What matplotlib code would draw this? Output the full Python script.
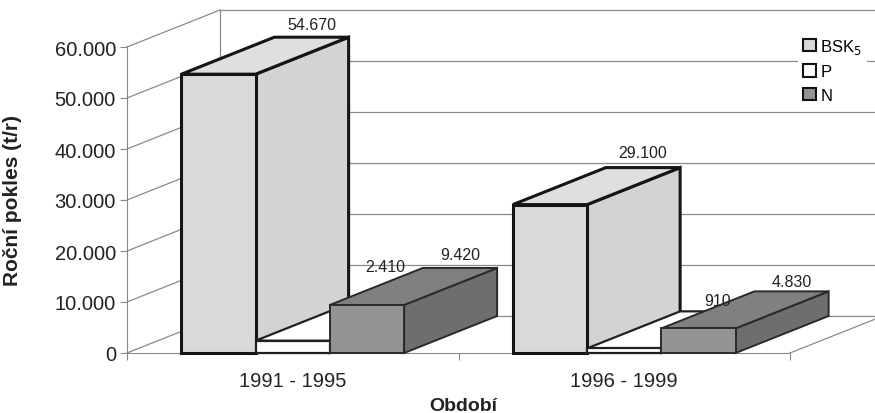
import matplotlib
matplotlib.use("Agg")
import matplotlib.pyplot as plt
from matplotlib.patches import Polygon, Patch

plt.rcParams['font.family'] = ['Liberation Sans', 'DejaVu Sans']

# ---- data ----
categories = ["1991 - 1995", "1996 - 1999"]
series_names = ["BSK$_5$", "P", "N"]
bsk5 = [54670, 29100]
p_vals = [2410, 910]
n_vals = [9420, 4830]
value_labels_bsk5 = ["54.670", "29.100"]
value_labels_p = ["2.410", "910"]
value_labels_n = ["9.420", "4.830"]
yticks = [0, 10000, 20000, 30000, 40000, 50000, 60000]
ytick_labels = ["0", "10.000", "20.000", "30.000", "40.000", "50.000", "60.000"]

series_values = [bsk5, p_vals, n_vals]
series_labels = [value_labels_bsk5, value_labels_p, value_labels_n]

# ---- styles ----
W, H = 875, 414
fig = plt.figure(figsize=(W / 100, H / 100), dpi=100)
left_px, right_px, top_px, bot_px = 127, 790, 48, 354
ax = fig.add_axes([left_px / W, 1 - bot_px / H, (right_px - left_px) / W, (bot_px - top_px) / H])
ymax = 60000
ax.set_xlim(0, len(categories))
ax.set_ylim(0, ymax)
ax.set_facecolor('none')

px_x = (right_px - left_px) / len(categories)      # px per category unit
px_y = (bot_px - top_px) / ymax                    # px per value unit
DX = 93 / px_x                                     # depth offset in data units
DY = 37 / px_y

grid_c = '#8a8a8a'
# left side wall lines and back wall gridlines
for v in yticks:
    ax.plot([0, DX], [v, v + DY], color=grid_c, lw=0.9, clip_on=False, zorder=1)
    ax.plot([DX, len(categories) + DX], [v + DY, v + DY], color=grid_c, lw=0.9, clip_on=False, zorder=1)
ax.plot([DX, DX], [DY, ymax + DY], color=grid_c, lw=0.9, clip_on=False, zorder=1)
# floor right edge
ax.plot([len(categories), len(categories) + DX], [0, DY], color=grid_c, lw=0.9, clip_on=False, zorder=1)

# bars
bw = 0.224
styles = [
    dict(front='#d9d9d9', top='#dfdfdf', side='#d3d3d3', edge='#151515', lw=2.2),
    dict(front='#ffffff', top='#ffffff', side='#f4f4f4', edge='#202020', lw=1.6),
    dict(front='#939393', top='#808080', side='#6e6e6e', edge='#2a2a2a', lw=1.4),
]
label_extra_px = [[13, 15], [37, 11], [13, 10]]

z = 3
for ci in range(len(categories)):
    x0 = ci + 0.5 - 1.5 * bw
    for si, vals in enumerate(series_values):
        v = vals[ci]
        st = styles[si]
        xl = x0 + si * bw
        xr = xl + bw
        front = [(xl, 0), (xr, 0), (xr, v), (xl, v)]
        top = [(xl, v), (xr, v), (xr + DX, v + DY), (xl + DX, v + DY)]
        side = [(xr, 0), (xr + DX, DY), (xr + DX, v + DY), (xr, v)]
        for pts, fc in ((side, st['side']), (top, st['top']), (front, st['front'])):
            ax.add_patch(Polygon(pts, closed=True, facecolor=fc, edgecolor=st['edge'],
                                 lw=st['lw'], joinstyle='miter', clip_on=False, zorder=z))
        z += 1
        off = label_extra_px[si][ci]
        ax.text((xl + xr) / 2 + DX, v + DY + off / px_y, series_labels[si][ci],
                ha='center', va='center', fontsize=11.5, color='#222222', zorder=50)

# axes / spines
for s in ['top', 'right']:
    ax.spines[s].set_visible(False)
ax.spines['left'].set_color(grid_c)
ax.spines['bottom'].set_color(grid_c)
ax.spines['left'].set_zorder(2)
ax.spines['bottom'].set_zorder(2)
ax.set_yticks(yticks)
ax.set_yticklabels(ytick_labels)
ax.tick_params(axis='y', length=5, color=grid_c, pad=3, labelsize=14.5, labelcolor='#222222')
ax.set_xticks(range(len(categories) + 1))
ax.set_xticklabels([''] * (len(categories) + 1))
ax.set_xticks([i + 0.5 for i in range(len(categories))], minor=True)
ax.set_xticklabels(categories, minor=True)
ax.tick_params(axis='x', which='major', length=5, color=grid_c)
ax.tick_params(axis='x', which='minor', length=0, pad=13, labelsize=14.5, labelcolor='#222222')

ax.set_ylabel("Roční pokles (t/r)", fontsize=15, fontweight='bold', color='#222222')
ax.yaxis.set_label_coords((22 - left_px) / (right_px - left_px), 0.5)
ax.set_xlabel("Období", fontsize=14, fontweight='bold', color='#222222')
ax.xaxis.set_label_coords((463 - left_px) / (right_px - left_px), (bot_px - 407) / (bot_px - top_px))
ax.xaxis.label.set_va('center')

handles = [Patch(facecolor=styles[i]['front'], edgecolor='#111111', lw=1.5) for i in range(3)]
leg = fig.legend(handles, series_names, loc='upper left', bbox_to_anchor=(798 / W, 1 - 33 / H),
                 frameon=True, fontsize=12, handlelength=0.75, handleheight=0.75,
                 handletextpad=0.3, labelspacing=0.5, borderpad=0.3, borderaxespad=0)
leg.get_frame().set_edgecolor('none')
leg.get_frame().set_facecolor('white')
leg.get_frame().set_alpha(1)
leg.set_zorder(100)

fig.savefig("out.png", dpi=100)
